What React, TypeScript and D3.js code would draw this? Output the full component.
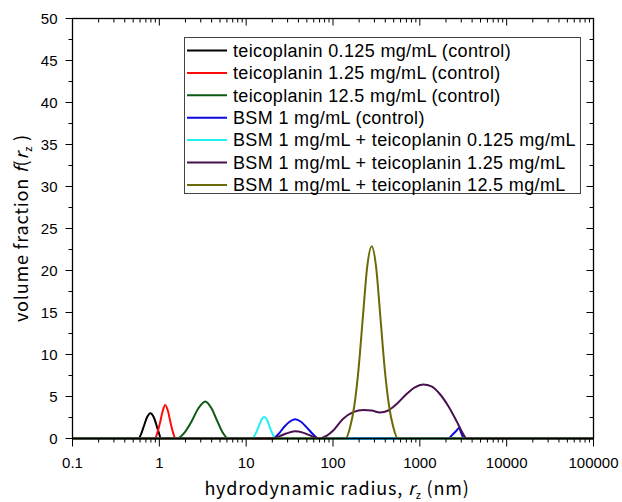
import React from 'react';
import * as d3 from 'd3';

const W = 622;
const H = 502;
const frame = { left: 72.5, right: 593.5, top: 18.5, bottom: 438.5 };

// axis ticks
const xMajor = [0.1, 1, 10, 100, 1000, 10000, 100000];
const xMajorLabels = ['0.1', '1', '10', '100', '1000', '10000', '100000'];
const yMajor = [0, 5, 10, 15, 20, 25, 30, 35, 40, 45, 50];

// hydrodynamic radius (nm) / volume fraction
const teico0125R = [0.1, 0.575, 0.615, 0.66, 0.72, 0.79, 0.865, 0.945, 1.0, 1.035, 100000];
const teico0125F = [0, 0, 0.5, 1.4, 2.5, 3.0, 2.5, 1.3, 0.5, 0, 0];

const teico125R = [0.1, 0.89, 0.95, 1.02, 1.095, 1.17, 1.255, 1.345, 1.44, 1.54, 100000];
const teico125F = [0, 0, 0.7, 1.9, 3.3, 4.0, 3.3, 1.9, 0.7, 0, 0];

const teico1250R = [0.1, 1.58, 1.95, 2.34, 2.82, 3.39, 3.98, 4.68, 5.37, 6.2, 100000];
const teico1250F = [0, 0, 0.7, 2.0, 3.6, 4.4, 3.6, 2.0, 0.7, 0, 0];

const bsmR = [0.1, 20, 23.4, 27.5, 31.6, 36.6, 42.7, 50.1, 58.9, 67.6, 2110, 2400, 2650, 2830, 2960, 3100, 3210, 100000];
const bsmF = [0, 0, 0.5, 1.4, 2.0, 2.3, 2.0, 1.3, 0.5, 0, 0, 0.5, 0.95, 1.25, 0.8, 0.3, 0, 0];

const bsmT0125R = [0.1, 11.6, 12.6, 13.8, 15.0, 16.1, 17.4, 18.8, 20.2, 21.5, 100000];
const bsmT0125F = [0, 0, 0.4, 1.3, 2.2, 2.55, 2.2, 1.3, 0.5, 0, 0];

const bsmT125R = [0.1, 20, 24, 29, 36.5, 45, 55, 64, 71, 85, 100.7, 131, 171, 223, 279, 347, 432, 540, 703, 877, 1092, 1363, 1698, 2115, 2640, 3148, 3443, 100000];
const bsmT125F = [0, 0, 0.25, 0.6, 0.85, 0.7, 0.35, 0.08, 0, 0.35, 0.95, 2.35, 3.13, 3.4, 3.33, 3.1, 3.33, 4.1, 5.3, 6.1, 6.43, 6.2, 5.3, 3.9, 2.1, 0.55, 0, 0];

const bsmT1250R = [0.1, 140, 157, 176, 197, 221, 248, 279, 313, 351, 394, 442, 496, 556, 100000];
const bsmT1250F = [0, 0, 1.3, 3.9, 8.3, 14.5, 20.5, 22.9, 20.5, 14.5, 8.3, 3.9, 1.3, 0, 0];

const seriesNames = [
  'teicoplanin 0.125 mg/mL (control)',
  'teicoplanin 1.25 mg/mL (control)',
  'teicoplanin 12.5 mg/mL (control)',
  'BSM 1 mg/mL (control)',
  'BSM 1 mg/mL + teicoplanin 0.125 mg/mL',
  'BSM 1 mg/mL + teicoplanin 1.25 mg/mL',
  'BSM 1 mg/mL + teicoplanin 12.5 mg/mL',
];
const seriesColors = ['#000000', '#ff0a0a', '#0b5a12', '#0a0ae0', '#22f0f0', '#4a1050', '#6a6a08'];
const seriesR = [teico0125R, teico125R, teico1250R, bsmR, bsmT0125R, bsmT125R, bsmT1250R];
const seriesF = [teico0125F, teico125F, teico1250F, bsmF, bsmT0125F, bsmT125F, bsmT1250F];

const labelFont = '"Noto Sans CJK JP", "Noto Sans", sans-serif';
const tickFont = '"Liberation Sans", Arial, sans-serif';

export default function App() {
  const x = d3.scaleLog().domain([0.1, 100000]).range([frame.left, frame.right]);
  const y = d3.scaleLinear().domain([0, 50]).range([frame.bottom, frame.top]);

  const line = d3
    .line<[number, number]>()
    .x((d) => x(d[0]))
    .y((d) => y(d[1]))
    .curve(d3.curveMonotoneX);

  // minor ticks on the log axis: 2..9 in each decade
  const xMinor: number[] = [];
  xMajor.slice(0, -1).forEach((m) => {
    for (let k = 2; k <= 9; k++) xMinor.push(m * k);
  });
  const yMinor = d3.range(2.5, 50, 5);

  const legendX = 184.5;
  const legendY = 37.5;
  const rowH = 22.4;

  return (
    <svg width={W} height={H} style={{ position: 'absolute', left: 0, top: 0 }}>
      <rect width={W} height={H} fill="#fff" />

      {seriesNames.map((name, i) => {
        const pts = seriesR[i].map((r, j) => [r, seriesF[i][j]] as [number, number]);
        return (
          <path key={name} d={line(pts) || ''} fill="none" stroke={seriesColors[i]} strokeWidth={2} />
        );
      })}

      {/* frame */}
      <rect
        x={frame.left}
        y={frame.top}
        width={frame.right - frame.left}
        height={frame.bottom - frame.top}
        fill="none"
        stroke="#000"
        strokeWidth={1.3}
      />

      {/* x ticks: outward on bottom, inward on top */}
      {xMajor.map((v) => (
        <g key={'xm' + v}>
          <line x1={x(v)} x2={x(v)} y1={frame.bottom} y2={frame.bottom + 8} stroke="#000" />
          <line x1={x(v)} x2={x(v)} y1={frame.top} y2={frame.top + 7} stroke="#000" />
        </g>
      ))}
      {xMinor.map((v) => (
        <g key={'xn' + v}>
          <line x1={x(v)} x2={x(v)} y1={frame.bottom} y2={frame.bottom + 4} stroke="#000" />
          <line x1={x(v)} x2={x(v)} y1={frame.top} y2={frame.top + 4} stroke="#000" />
        </g>
      ))}
      {xMajor.map((v, i) => (
        <text
          key={'xl' + v}
          x={x(v)}
          y={468}
          textAnchor="middle"
          fontFamily={tickFont}
          fontSize={15}
        >
          {xMajorLabels[i]}
        </text>
      ))}

      {/* y ticks: outward on left, inward on right */}
      {yMajor.map((v) => (
        <g key={'ym' + v}>
          <line x1={frame.left - 7} x2={frame.left} y1={y(v)} y2={y(v)} stroke="#000" />
          <line x1={frame.right - 7} x2={frame.right} y1={y(v)} y2={y(v)} stroke="#000" />
          <text
            x={frame.left - 15}
            y={y(v)}
            dy="0.35em"
            textAnchor="end"
            fontFamily={tickFont}
            fontSize={15}
          >
            {v}
          </text>
        </g>
      ))}
      {yMinor.map((v) => (
        <g key={'yn' + v}>
          <line x1={frame.left - 4} x2={frame.left} y1={y(v)} y2={y(v)} stroke="#000" />
          <line x1={frame.right - 4} x2={frame.right} y1={y(v)} y2={y(v)} stroke="#000" />
        </g>
      ))}

      {/* axis titles */}
      <text
        x={337}
        y={495}
        textAnchor="middle"
        fontFamily={labelFont}
        fontSize={18}
        letterSpacing={0.8}
      >
        hydrodynamic radius,{' '}
        <tspan fontStyle="italic">r</tspan>
        <tspan fontSize={11} dy={4}>z</tspan>
        <tspan dy={-4}> (nm)</tspan>
      </text>
      <text
        transform={`translate(28,322) rotate(-90)`}
        textAnchor="start"
        fontFamily={labelFont}
        fontSize={18}
        letterSpacing={0.8}
      >
        volume fraction{'  '}
        <tspan fontStyle="italic">f</tspan>(<tspan fontStyle="italic">r</tspan>
        <tspan fontSize={11} dy={4}>z</tspan>
        <tspan dy={-4}> )</tspan>
      </text>

      {/* legend */}
      <rect x={legendX} y={legendY} width={396} height={156} fill="#fff" stroke="#444" />
      {seriesNames.map((name, i) => {
        const cy = 50.5 + i * rowH;
        return (
          <g key={'lg' + name}>
            <line x1={187} x2={227} y1={cy} y2={cy} stroke={seriesColors[i]} strokeWidth={2} />
            <text
              x={233}
              y={cy}
              dy="0.35em"
              fontFamily={tickFont}
              fontSize={18}
              letterSpacing={0.35}
            >
              {name}
            </text>
          </g>
        );
      })}
    </svg>
  );
}
